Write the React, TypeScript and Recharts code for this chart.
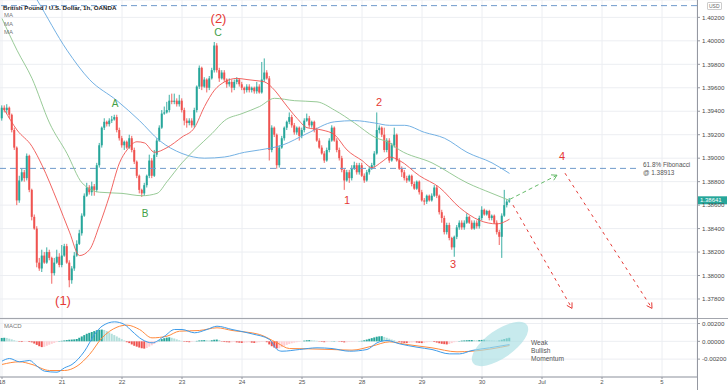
import React from 'react';
import { ComposedChart, Bar, Line, XAxis, YAxis, CartesianGrid, ReferenceLine, ReferenceDot, Cell } from 'recharts';

// ---------- data ----------
const firstOpen = 1.3934;
const closes = [
  1.3943,1.3941,1.3943,1.3937,1.3924,1.3909,1.3864,1.3881,1.3888,1.3883,
  1.3902,1.3873,1.3850,1.3840,1.3811,1.3806,1.3817,1.3811,1.3820,1.3815,
  1.3802,1.3811,1.3816,1.3809,1.3817,1.3825,1.3811,1.3796,1.3806,1.3817,
  1.3827,1.3836,1.3851,1.3868,1.3875,1.3871,1.3876,1.3873,1.3894,1.3911,
  1.3926,1.3931,1.3929,1.3932,1.3933,1.3935,1.3924,1.3917,1.3911,1.3914,
  1.3909,1.3917,1.3907,1.3897,1.3885,1.3873,1.3870,1.3877,1.3885,1.3898,
  1.3885,1.3903,1.3915,1.3926,1.3938,1.3939,1.3941,1.3949,1.3948,1.3949,
  1.3946,1.3949,1.3941,1.3932,1.3930,1.3932,1.3928,1.3941,1.3961,1.3977,
  1.3961,1.3967,1.3960,1.3968,1.3975,1.3996,1.3975,1.3968,1.3973,1.3967,
  1.3963,1.3965,1.3960,1.3965,1.3967,1.3963,1.3960,1.3958,1.3961,1.3958,
  1.3960,1.3957,1.3961,1.3956,1.3967,1.3973,1.3968,1.3907,1.3926,1.3920,
  1.3894,1.3909,1.3917,1.3926,1.3931,1.3935,1.3928,1.3922,1.3926,1.3919,
  1.3924,1.3932,1.3934,1.3928,1.3931,1.3924,1.3915,1.3909,1.3904,1.3898,
  1.3907,1.3915,1.3926,1.3915,1.3907,1.3900,1.3890,1.3881,1.3888,1.3883,
  1.3891,1.3894,1.3888,1.3894,1.3885,1.3881,1.3888,1.3891,1.3894,1.3904,
  1.3924,1.3926,1.3920,1.3907,1.3915,1.3898,1.3911,1.3920,1.3898,1.3891,
  1.3888,1.3883,1.3881,1.3885,1.3878,1.3874,1.3880,1.3871,1.3864,1.3863,
  1.3868,1.3864,1.3868,1.3875,1.3868,1.3854,1.3849,1.3837,1.3843,1.3832,
  1.3824,1.3833,1.3841,1.3845,1.3841,1.3845,1.3850,1.3845,1.3840,1.3845,
  1.3842,1.3849,1.3856,1.3852,1.3855,1.3849,1.3851,1.3845,1.3837,1.3833,
  1.3851,1.3860,1.3863,1.38641,
];
const highs = [
  1.3945,1.3945,1.3946,1.3944,1.3938,1.3926,1.3910,1.3885,1.3891,1.3890,
  1.3904,1.3903,1.3874,1.3852,1.3842,1.3815,1.3822,1.3820,1.3824,1.3822,
  1.3816,1.3815,1.3822,1.3819,1.3826,1.3827,1.3827,1.3813,1.3808,1.3820,
  1.3830,1.3839,1.3853,1.3870,1.3879,1.3877,1.3880,1.3878,1.3896,1.3913,
  1.3927,1.3934,1.3932,1.3934,1.3936,1.3937,1.3937,1.3926,1.3919,1.3915,
  1.3915,1.3920,1.3919,1.3909,1.3898,1.3886,1.3874,1.3879,1.3886,1.3903,
  1.3900,1.3907,1.3917,1.3928,1.3941,1.3944,1.3948,1.3954,1.3955,1.3955,
  1.3951,1.3954,1.3951,1.3943,1.3934,1.3934,1.3934,1.3943,1.3962,1.3979,
  1.3978,1.3969,1.3968,1.3970,1.3977,1.3999,1.3998,1.3977,1.3975,1.3975,
  1.3968,1.3968,1.3967,1.3967,1.3969,1.3968,1.3965,1.3961,1.3963,1.3963,
  1.3961,1.3961,1.3965,1.3963,1.3982,1.3985,1.3975,1.3970,1.3928,1.3927,
  1.3921,1.3911,1.3919,1.3927,1.3932,1.3939,1.3937,1.3930,1.3927,1.3927,
  1.3926,1.3934,1.3938,1.3936,1.3932,1.3932,1.3926,1.3917,1.3911,1.3906,
  1.3909,1.3917,1.3928,1.3927,1.3917,1.3909,1.3902,1.3891,1.3890,1.3890,
  1.3894,1.3897,1.3896,1.3896,1.3896,1.3887,1.3890,1.3893,1.3896,1.3906,
  1.3939,1.3928,1.3927,1.3926,1.3917,1.3917,1.3913,1.3926,1.3921,1.3900,
  1.3893,1.3890,1.3885,1.3886,1.3886,1.3880,1.3881,1.3881,1.3873,1.3866,
  1.3869,1.3869,1.3870,1.3877,1.3877,1.3869,1.3856,1.3851,1.3845,1.3845,
  1.3833,1.3834,1.3843,1.3847,1.3847,1.3847,1.3853,1.3851,1.3847,1.3847,
  1.3847,1.3851,1.3859,1.3857,1.3856,1.3856,1.3852,1.3852,1.3847,1.3839,
  1.3853,1.3873,1.3865,1.3866,
];
const lows = [
  1.3932,1.3939,1.3938,1.3934,1.3922,1.3907,1.3860,1.3862,1.3880,1.3880,
  1.3881,1.3871,1.3847,1.3839,1.3807,1.3804,1.3803,1.3810,1.3810,1.3813,
  1.3793,1.3800,1.3810,1.3807,1.3807,1.3816,1.3810,1.3790,1.3793,1.3804,
  1.3816,1.3826,1.3834,1.3850,1.3867,1.3869,1.3868,1.3868,1.3871,1.3892,
  1.3909,1.3924,1.3927,1.3927,1.3930,1.3932,1.3922,1.3915,1.3909,1.3907,
  1.3908,1.3908,1.3905,1.3895,1.3883,1.3870,1.3867,1.3868,1.3875,1.3883,
  1.3883,1.3884,1.3901,1.3914,1.3925,1.3937,1.3938,1.3939,1.3946,1.3946,
  1.3944,1.3944,1.3939,1.3928,1.3926,1.3928,1.3926,1.3926,1.3939,1.3959,
  1.3958,1.3960,1.3956,1.3958,1.3967,1.3973,1.3973,1.3965,1.3967,1.3965,
  1.3960,1.3961,1.3956,1.3958,1.3963,1.3961,1.3958,1.3955,1.3956,1.3956,
  1.3956,1.3955,1.3955,1.3955,1.3955,1.3965,1.3967,1.3898,1.3905,1.3918,
  1.3891,1.3892,1.3908,1.3915,1.3924,1.3929,1.3926,1.3920,1.3920,1.3915,
  1.3917,1.3922,1.3931,1.3926,1.3926,1.3922,1.3914,1.3908,1.3903,1.3896,
  1.3897,1.3905,1.3914,1.3914,1.3905,1.3898,1.3888,1.3873,1.3880,1.3879,
  1.3881,1.3890,1.3886,1.3886,1.3884,1.3879,1.3880,1.3886,1.3890,1.3892,
  1.3903,1.3921,1.3918,1.3905,1.3905,1.3896,1.3897,1.3909,1.3897,1.3890,
  1.3884,1.3881,1.3879,1.3880,1.3876,1.3873,1.3873,1.3869,1.3863,1.3860,
  1.3861,1.3863,1.3863,1.3867,1.3866,1.3852,1.3845,1.3835,1.3835,1.3830,
  1.3822,1.3816,1.3831,1.3839,1.3839,1.3839,1.3844,1.3844,1.3839,1.3839,
  1.3840,1.3840,1.3847,1.3851,1.3851,1.3847,1.3847,1.3844,1.3835,1.3826,
  1.3815,1.3850,1.3858,1.3862,
];

const dayTicks = [0, 24, 48, 72, 96, 120, 144, 168, 192, 216, 240, 264];
const dayLabels = ['18', '21', '22', '23', '24', '25', '28', '29', '30', 'Jul', '2', '5'];
const priceTicks = [1.378, 1.38, 1.382, 1.384, 1.386, 1.388, 1.39, 1.392, 1.394, 1.396, 1.398, 1.4, 1.402];
const macdTicks = [-0.002, 0, 0.002];

// moving averages read at sample bars: [bar, value]
const maFast: [number, number][] = [
  [1,1.3941],[6,1.3924],[12,1.3910],[16,1.3894],[22,1.3864],[27,1.3837],[31,1.3817],[35,1.3822],
  [39,1.3843],[43,1.3868],[47,1.3896],[50,1.3907],[54,1.3914],[57,1.3913],[61,1.3905],[66,1.3909],
  [72,1.3918],[77,1.3926],[81,1.3944],[85,1.3958],[89,1.3965],[94,1.3968],[98,1.3967],[102,1.3966],
  [105,1.3965],[109,1.3958],[113,1.3947],[118,1.3934],[122,1.3926],[128,1.3924],[133,1.3920],[138,1.3907],
  [144,1.3898],[148,1.3892],[152,1.3897],[155,1.3901],[159,1.3898],[167,1.3885],[175,1.3875],[183,1.3858],
  [191,1.3847],[198,1.3844],[203,1.3848],
];
const maMid: [number, number][] = [
  [0,1.4019],[6,1.3992],[12,1.3968],[19,1.3930],[26,1.3904],[32,1.3879],[39,1.3871],[48,1.3870],
  [56,1.3868],[62,1.3870],[66,1.3880],[72,1.3896],[77,1.3907],[84,1.3921],[89,1.3932],[96,1.3938],
  [103,1.3944],[109,1.3951],[117,1.3949],[126,1.3948],[133,1.3941],[141,1.3930],[149,1.3918],[155,1.3913],
  [159,1.3907],[172,1.3896],[186,1.3879],[196,1.3870],[203,1.3864],
];
const maSlow: [number, number][] = [
  [6,1.4063],[14,1.4035],[26,1.3992],[35,1.3967],[46,1.3949],[55,1.3932],[63,1.3915],[72,1.3904],
  [81,1.3900],[89,1.3901],[97,1.3905],[103,1.3907],[112,1.3911],[122,1.3921],[133,1.3931],[141,1.3932],
  [149,1.3930],[155,1.3928],[161,1.3928],[169,1.3922],[177,1.3917],[186,1.3905],[196,1.3896],[203,1.3887],
];

// MACD histogram, one value per bar
const histogram = [
  38e-5,40e-5,38e-5,30e-5,22e-5,12e-5,5e-5,
  -5e-5,-8e-5,-6e-5,-4e-5,-8e-5,-12e-5,
  -25e-5,-40e-5,-55e-5,-65e-5,-62e-5,
  -50e-5,-38e-5,-28e-5,-18e-5,-8e-5,
  4e-5,6e-5,10e-5,14e-5,18e-5,20e-5,22e-5,26e-5,
  40e-5,55e-5,70e-5,85e-5,95e-5,105e-5,115e-5,125e-5,130e-5,132e-5,
  128e-5,115e-5,100e-5,85e-5,70e-5,55e-5,40e-5,25e-5,10e-5,
  -10e-5,-20e-5,-35e-5,-50e-5,-60e-5,-70e-5,-78e-5,-82e-5,-75e-5,-60e-5,-45e-5,-30e-5,-12e-5,
  10e-5,25e-5,35e-5,42e-5,45e-5,40e-5,32e-5,22e-5,12e-5,5e-5,
  -5e-5,-8e-5,-10e-5,-6e-5,-2e-5,
  5e-5,10e-5,12e-5,14e-5,12e-5,10e-5,12e-5,18e-5,20e-5,15e-5,
  -4e-5,-8e-5,-10e-5,-12e-5,-10e-5,-8e-5,-12e-5,-15e-5,-18e-5,-15e-5,-12e-5,-10e-5,-15e-5,-18e-5,-14e-5,-10e-5,-6e-5,-4e-5,-10e-5,
  -35e-5,-55e-5,-70e-5,-80e-5,-78e-5,-65e-5,-52e-5,-40e-5,-30e-5,-22e-5,-15e-5,-10e-5,-5e-5,-2e-5,
  8e-5,12e-5,14e-5,12e-5,10e-5,6e-5,
  -3e-5,-6e-5,-10e-5,-8e-5,-4e-5,2e-5,4e-5,2e-5,-4e-5,-8e-5,-12e-5,-10e-5,-8e-5,-6e-5,-4e-5,-2e-5,2e-5,6e-5,
  12e-5,20e-5,28e-5,36e-5,44e-5,52e-5,56e-5,58e-5,50e-5,40e-5,30e-5,20e-5,12e-5,4e-5,
  -8e-5,-14e-5,-18e-5,-20e-5,-16e-5,-12e-5,-10e-5,-14e-5,-18e-5,-20e-5,-16e-5,-10e-5,-6e-5,-4e-5,-8e-5,-14e-5,-22e-5,-28e-5,-32e-5,-35e-5,-30e-5,-20e-5,-10e-5,-4e-5,
  4e-5,8e-5,10e-5,12e-5,14e-5,15e-5,14e-5,12e-5,14e-5,16e-5,18e-5,16e-5,14e-5,12e-5,10e-5,8e-5,10e-5,18e-5,26e-5,34e-5,40e-5,
];
const macdLine: [number, number][] = [
  [0,-0.00223],[3,-0.00193],[7,-0.0023],[11,-0.00215],[14,-0.00279],[17,-0.00335],[22,-0.00347],[25,-0.00298],
  [28,-0.0026],[33,-0.00111],[37,0.00077],[40,0.0017],[45,0.00219],[49,0.00189],[52,0.00114],[56,0.00021],
  [60,-0.00017],[65,0.00058],[69,0.00133],[72,0.00133],[77,0.00096],[82,0.00133],[86,0.0017],[92,0.00133],
  [100,0.00084],[107,0.00021],[110,-0.00092],[112,-0.00111],[119,-0.00092],[126,-0.00073],[132,-0.00081],
  [139,-0.00111],[146,-0.00092],[150,-0.00017],[154,0.00009],[159,-0.00028],[166,-0.00066],[172,-0.00092],
  [179,-0.00141],[183,-0.00141],[188,-0.00103],[195,-0.00073],[203,-0.00036],
];
const signalLine: [number, number][] = [
  [0,-0.0026],[7,-0.0023],[12,-0.0026],[19,-0.00328],[25,-0.00328],[30,-0.00279],[35,-0.00148],[40,0.00039],
  [46,0.00159],[50,0.00182],[55,0.00133],[60,0.00039],[66,0.00058],[71,0.00114],[79,0.00122],[86,0.00152],
  [92,0.00122],[103,0.00077],[110,-0.00017],[115,-0.00081],[122,-0.00084],[132,-0.00092],[140,-0.00099],
  [148,-0.00054],[155,-0.00006],[162,-0.00036],[172,-0.00073],[182,-0.00118],[188,-0.00111],[196,-0.00084],
  [203,-0.00047],
];

const fibTop = 1.403;
const fib618 = 1.38913;

// annotation positions in data space
const waveLabels = [
  { text: '(1)', t: 24.4, p: 1.3779, color: '#e53935', size: 13 },
  { text: '(2)', t: 86.6, p: 1.40192, color: '#e53935', size: 13 },
  { text: 'C', t: 86.4, p: 1.40072, color: '#43a047', size: 10.5 },
  { text: 'A', t: 45.2, p: 1.3947, color: '#43a047', size: 10 },
  { text: 'B', t: 57.2, p: 1.3853, color: '#43a047', size: 10 },
  { text: '1', t: 138, p: 1.3864, color: '#e53935', size: 11 },
  { text: '2', t: 150.8, p: 1.3948, color: '#e53935', size: 11 },
  { text: '3', t: 180.4, p: 1.381, color: '#e53935', size: 11 },
  { text: '4', t: 224, p: 1.3902, color: '#e53935', size: 11 },
];
const projGreen = [{ x: 203.2, y: 1.3865 }, { x: 222, y: 1.38855 }];
const projRed1 = [{ x: 204.4, y: 1.386 }, { x: 228, y: 1.3772 }];
const projRed2 = [{ x: 225.2, y: 1.38872 }, { x: 260, y: 1.3772 }];

// ---------- build tables ----------
const priceData: any[] = closes.map((c, i) => ({
  t: i,
  open: i === 0 ? firstOpen : closes[i - 1],
  close: c,
  high: highs[i],
  low: lows[i],
  range: [lows[i], highs[i]],
}));
maFast.forEach(([t, v]) => { priceData[t].fast = v; });
maMid.forEach(([t, v]) => { priceData[t].mid = v; });
maSlow.forEach(([t, v]) => { priceData[t].slow = v; });

const macdData: any[] = histogram.map((h, i) => ({ t: i, hist: h }));
macdLine.forEach(([t, v]) => { macdData[t].macd = v; });
signalLine.forEach(([t, v]) => { macdData[t].signal = v; });

const UP = '#26a69a';
const DOWN = '#ef5350';

const histColor = (i: number) => {
  const v = histogram[i];
  const prev = i > 0 ? histogram[i - 1] : 0;
  if (v >= 0) return v >= prev ? UP : '#b2dfdb';
  return v <= prev ? DOWN : '#ffcdd2';
};

const Candle = (props: any) => {
  const { x, y, width, height, payload } = props;
  if (!payload) return null;
  const { open, close, high, low } = payload;
  const h = Math.abs(height);
  const top = height >= 0 ? y : y + height;
  const ratio = h / Math.max(high - low, 1e-9);
  const yO = top + (high - open) * ratio;
  const yC = top + (high - close) * ratio;
  const color = close >= open ? UP : DOWN;
  const bodyTop = Math.min(yO, yC);
  const bodyH = Math.max(Math.abs(yO - yC), 1);
  const cx = x + width / 2;
  return (
    <g>
      <line x1={cx} x2={cx} y1={top} y2={top + h} stroke={color} strokeWidth={0.9} />
      <rect x={x} y={bodyTop} width={width} height={bodyH} fill={color} />
    </g>
  );
};

const textShape = (label: string, color: string, size: number, weight: any, anchor: string = 'middle') => (p: any) => (
  <text x={p.cx} y={p.cy} fill={color} fontSize={size} fontWeight={weight} textAnchor={anchor} dominantBaseline="central">
    {label}
  </text>
);

const arrowShape = (color: string, dash: string) => (p: any) => {
  const { x1, y1, x2, y2 } = p;
  if ([x1, y1, x2, y2].some((v) => v == null || isNaN(v))) return null;
  const ang = Math.atan2(y2 - y1, x2 - x1);
  const L = 6;
  const A = Math.PI / 6;
  const ax = x2 - L * Math.cos(ang - A);
  const ay = y2 - L * Math.sin(ang - A);
  const bx = x2 - L * Math.cos(ang + A);
  const by = y2 - L * Math.sin(ang + A);
  return (
    <g>
      <line x1={x1} y1={y1} x2={x2} y2={y2} stroke={color} strokeDasharray={dash} strokeWidth={1} />
      <path d={`M${ax},${ay}L${x2},${y2}L${bx},${by}`} stroke={color} strokeWidth={1} fill="none" />
    </g>
  );
};

const lastPriceLabel = (p: any) => {
  const vb = p.viewBox || {};
  const x = (vb.x || 0) + (vb.width || 0) + 1;
  const y = vb.y || 0;
  return (
    <g>
      <rect x={x} y={y - 4} width={29} height={8} fill={UP} />
      <text x={x + 2} y={y} fill="#fff" fontSize={6} dominantBaseline="central">
        {closes[closes.length - 1].toFixed(5)}
      </text>
    </g>
  );
};

const EllipseShape = (p: any) => (
  <ellipse cx={p.cx} cy={p.cy} rx={33} ry={14} transform={`rotate(-35 ${p.cx} ${p.cy})`} fill="#a9dfe3" fillOpacity={0.65} />
);

const axisTick = { fontSize: 6.2, fill: '#4a4a4a' };
const GRID = '#eceef2';

export default function App() {
  return (
    <div
      style={{
        position: 'absolute',
        left: 0,
        top: 0,
        width: 728,
        height: 390,
        background: '#fff',
        fontFamily: "'Liberation Sans', Arial, sans-serif",
        overflow: 'hidden',
      }}
    >
      <div style={{ position: 'absolute', left: 0, top: 0 }}>
        <ComposedChart width={728} height={318} data={priceData} margin={{ top: 0, right: 0, bottom: 0, left: 0 }}>
          <CartesianGrid stroke={GRID} />
          <XAxis dataKey="t" type="number" domain={[-0.8, 278]} ticks={dayTicks} interval={0} allowDataOverflow hide />
          <YAxis
            orientation="right"
            width={31}
            domain={[1.37638, 1.40348]}
            ticks={priceTicks}
            interval={0}
            allowDataOverflow
            axisLine={false}
            tickSize={3}
            tickLine={{ stroke: '#9598a1' }}
            tick={axisTick}
            tickFormatter={(v: number) => v.toFixed(5)}
          />
          <ReferenceLine y={fibTop} stroke="#6f9acb" strokeDasharray="6 4" />
          <ReferenceLine segment={[{ x: -0.8, y: fib618 }, { x: 255, y: fib618 }]} stroke="#6f9acb" strokeDasharray="6 4" />
          <Line dataKey="slow" type="monotone" stroke="#64a8e0" strokeWidth={0.9} dot={false} activeDot={false} connectNulls isAnimationActive={false} />
          <Line dataKey="mid" type="monotone" stroke="#8cc48b" strokeWidth={0.9} dot={false} activeDot={false} connectNulls isAnimationActive={false} />
          <Line dataKey="fast" type="monotone" stroke="#ef5350" strokeWidth={0.9} dot={false} activeDot={false} connectNulls isAnimationActive={false} />
          <Bar dataKey="range" barSize={2} shape={Candle} isAnimationActive={false} />
          <ReferenceLine segment={projGreen} stroke="#66bb6a" shape={arrowShape('#66bb6a', '4 3')} />
          <ReferenceLine segment={projRed1} stroke="#e53935" shape={arrowShape('#e53935', '3 4')} />
          <ReferenceLine segment={projRed2} stroke="#e53935" shape={arrowShape('#e53935', '3 4')} />
          <ReferenceLine y={closes[closes.length - 1]} stroke="none" strokeOpacity={0} label={lastPriceLabel} />
          {waveLabels.map((w, i) => (
            <ReferenceDot key={i} x={w.t} y={w.p} r={0} shape={textShape(w.text, w.color, w.size, 500)} />
          ))}
          <ReferenceDot x={256.4} y={1.38949} r={0} shape={textShape('61.8% Fibonacci', '#555', 6.4, 400, 'start')} />
          <ReferenceDot x={256.4} y={1.38881} r={0} shape={textShape('@ 1.38913', '#555', 6.4, 400, 'start')} />
        </ComposedChart>
      </div>

      <div style={{ position: 'absolute', left: 0, top: 318, width: 728, height: 1, background: '#a3a6ad' }} />

      <div style={{ position: 'absolute', left: 0, top: 319 }}>
        <ComposedChart width={728} height={71} data={macdData} margin={{ top: 0, right: 0, bottom: 0, left: 0 }}>
          <CartesianGrid stroke={GRID} />
          <XAxis
            dataKey="t"
            type="number"
            domain={[-0.8, 278]}
            ticks={dayTicks}
            interval={0}
            allowDataOverflow
            height={13}
            tickSize={2}
            tickMargin={1}
            axisLine={{ stroke: '#9598a1' }}
            tickLine={{ stroke: '#9598a1' }}
            tick={{ fontSize: 6, fill: '#555' }}
            tickFormatter={(v: number) => dayLabels[dayTicks.indexOf(v)]}
          />
          <YAxis
            orientation="right"
            width={31}
            domain={[-0.00401, 0.00251]}
            ticks={macdTicks}
            interval={0}
            allowDataOverflow
            axisLine={false}
            tickSize={3}
            tickLine={{ stroke: '#9598a1' }}
            tick={axisTick}
            tickFormatter={(v: number) => v.toFixed(5)}
          />
          <ReferenceDot x={199.2} y={-0.0003} r={0} shape={EllipseShape} />
          <Bar dataKey="hist" barSize={2} isAnimationActive={false}>
            {macdData.map((d, i) => (
              <Cell key={i} fill={histColor(i)} />
            ))}
          </Bar>
          <Line dataKey="signal" type="monotone" stroke="#ff8a3d" strokeWidth={1} dot={false} activeDot={false} connectNulls isAnimationActive={false} />
          <Line dataKey="macd" type="monotone" stroke="#3d9be9" strokeWidth={1} dot={false} activeDot={false} connectNulls isAnimationActive={false} />
          <ReferenceDot x={211.6} y={-0.00008} r={0} shape={textShape('Weak', '#555', 6.6, 400, 'start')} />
          <ReferenceDot x={211.6} y={-0.00098} r={0} shape={textShape('Bullish', '#555', 6.6, 400, 'start')} />
          <ReferenceDot x={211.6} y={-0.00188} r={0} shape={textShape('Momentum', '#555', 6.6, 400, 'start')} />
        </ComposedChart>
      </div>

      <div style={{ position: 'absolute', left: 697, top: 0, width: 1, height: 390, background: '#9598a1' }} />

      <div style={{ position: 'absolute', left: 3, top: 3.5, fontSize: 6.2, lineHeight: '7px', color: '#222', fontWeight: 600, whiteSpace: 'nowrap' }}>
        British Pound / U.S. Dollar, 1h, OANDA
      </div>
      {[12, 20.5, 29].map((top, i) => (
        <div key={i} style={{ position: 'absolute', left: 4, top, fontSize: 6, lineHeight: '7px', color: '#777' }}>MA</div>
      ))}
      <div style={{ position: 'absolute', left: 4, top: 323, fontSize: 6, lineHeight: '7px', color: '#777' }}>MACD</div>
      <div
        style={{
          position: 'absolute',
          left: 707,
          top: 2,
          fontSize: 5,
          lineHeight: '6px',
          color: '#666',
          border: '1px solid #ccc',
          borderRadius: 1,
          padding: '0 1px',
          background: '#fff',
        }}
      >
        USD
      </div>
    </div>
  );
}
